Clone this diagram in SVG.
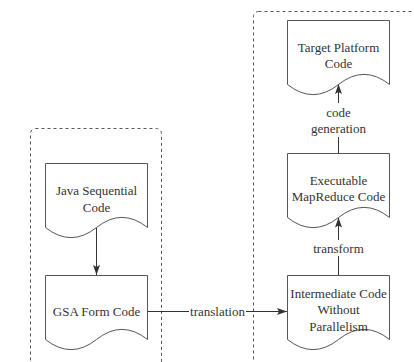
<svg xmlns="http://www.w3.org/2000/svg" width="414" height="362" viewBox="0 0 414 362">
<defs>
<style>
.doc{fill:#fff;stroke:#555;stroke-width:1}
.grp{fill:none;stroke:#555;stroke-width:1;stroke-dasharray:3 3}
.edge{fill:none;stroke:#333;stroke-width:1}
.t{font-family:"Liberation Serif","Times New Roman",serif;font-size:13px;fill:#333;text-anchor:middle}
.bg{fill:#fff}
</style>
<marker id="arr" markerUnits="userSpaceOnUse" markerWidth="10" markerHeight="8" refX="10" refY="4" orient="auto">
<path d="M0,0.5 L10,4 L0,7.5 L2,4 Z" fill="#333"/>
</marker>
</defs>
<rect width="414" height="362" fill="#fff"/>
<g id="group-left"><rect class="grp" x="30.5" y="128.5" width="131" height="270" rx="5"/></g>
<g id="group-right"><rect class="grp" x="253.5" y="11.5" width="200" height="400" rx="5"/></g>
<g id="connectors">
<path class="edge" d="M96.5,227.5 V275" marker-end="url(#arr)"/>
<path class="edge" d="M147.5,311.5 H287" marker-end="url(#arr)"/>
<rect class="bg" x="189" y="303" width="57" height="16"/>
<text class="t" x="217.5" y="315.5">translation</text>
<path class="edge" d="M338.5,275.5 V217.5" marker-end="url(#arr)"/>
<rect class="bg" x="310" y="240" width="57" height="16"/>
<text class="t" x="338.5" y="253">transform</text>
<path class="edge" d="M338.5,153.5 V84" marker-end="url(#arr)"/>
<rect class="bg" x="305" y="103" width="67" height="34"/>
<text class="t" x="338.5" y="117">code</text>
<text class="t" x="338.5" y="133">generation</text>
</g>
<g id="java">
<path class="doc" d="M45.5,163.5 H147.5 V227.5 Q122,207.25 96.5,227.5 Q71,247.75 45.5,227.5 Z"/>
<text class="t" x="96.5" y="194.5">Java Sequential</text>
<text class="t" x="96.5" y="211.5">Code</text>
</g>
<g id="gsa">
<path class="doc" d="M45.5,275.5 H147.5 V339.5 Q122,319.25 96.5,339.5 Q71,359.75 45.5,339.5 Z"/>
<text class="t" x="96.5" y="315.5">GSA Form Code</text>
</g>
<g id="target">
<path class="doc" d="M287.5,20.5 H389.5 V84.5 Q364,64.25 338.5,84.5 Q313,104.75 287.5,84.5 Z"/>
<text class="t" x="338.5" y="51.5">Target Platform</text>
<text class="t" x="338.5" y="68">Code</text>
</g>
<g id="executable">
<path class="doc" d="M287.5,153.5 H389.5 V217.5 Q364,197.25 338.5,217.5 Q313,237.75 287.5,217.5 Z"/>
<text class="t" x="338.5" y="184.5">Executable</text>
<text class="t" x="338.5" y="201">MapReduce Code</text>
</g>
<g id="intermediate">
<path class="doc" d="M287.5,275.5 H389.5 V339.5 Q364,319.25 338.5,339.5 Q313,359.75 287.5,339.5 Z"/>
<text class="t" x="338.5" y="297.5">Intermediate Code</text>
<text class="t" x="338.5" y="314">Without</text>
<text class="t" x="338.5" y="330.5">Parallelism</text>
</g>
</svg>
